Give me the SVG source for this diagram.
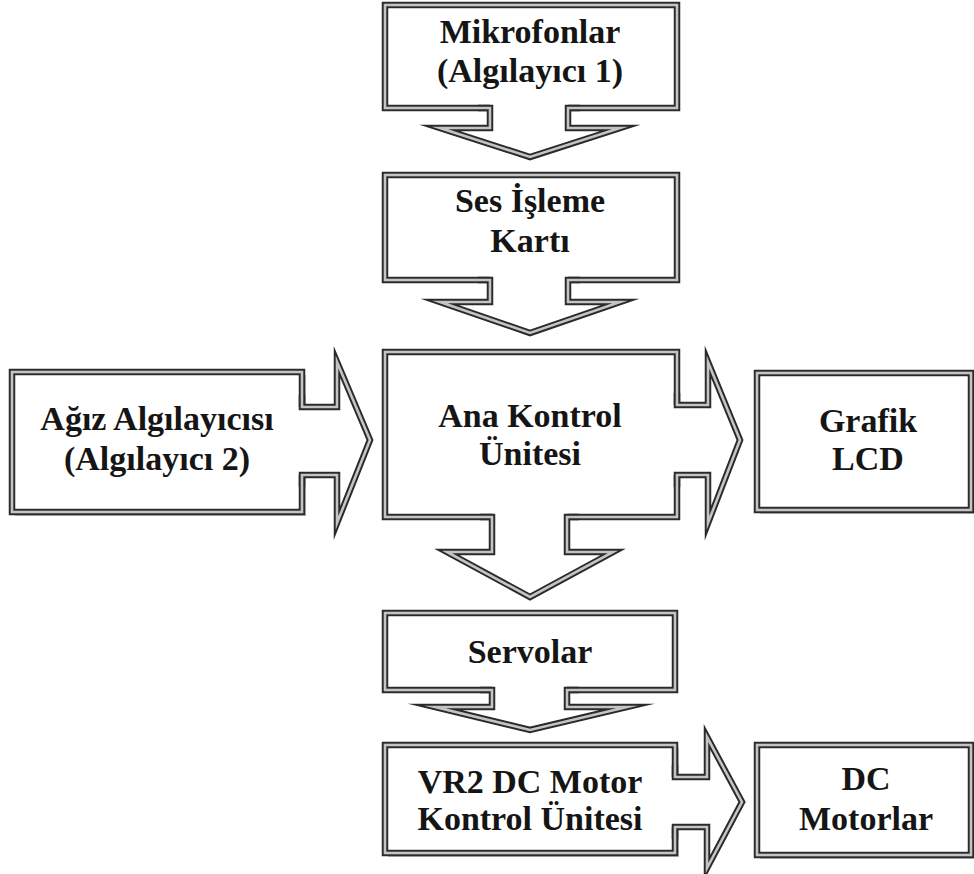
<svg xmlns="http://www.w3.org/2000/svg" width="974" height="874" viewBox="0 0 974 874">
<style>
.box{fill:#fff;stroke:#2a2a2a;stroke-width:6.5;stroke-linejoin:miter}
.mid{fill:none;stroke:#c4c4c4;stroke-width:2.6;stroke-linejoin:miter}
.ol{fill:none;stroke:#2a2a2a;stroke-width:6.5;stroke-linejoin:miter;stroke-miterlimit:10}
.olm{fill:none;stroke:#c4c4c4;stroke-width:2.6;stroke-linejoin:miter;stroke-miterlimit:10}
.af{fill:#fff;stroke:none}
.sh{fill:#7f97a8;opacity:0.55}
text{font-family:"Liberation Serif","Times New Roman",serif;font-weight:bold;font-size:34px;fill:#151515;text-anchor:middle}
</style>
<rect width="974" height="874" fill="#fff"/>
<g id="mikrofonlar">
<rect class="box" x="385" y="5" width="292" height="103"/>
<rect class="mid" x="385" y="5" width="292" height="103"/>
<text x="530" y="43">Mikrofonlar</text>
<text x="530" y="82">(Algılayıcı 1)</text>
</g>
<g id="ses-isleme">
<rect class="box" x="385" y="175" width="292" height="105"/>
<rect class="mid" x="385" y="175" width="292" height="105"/>
<text x="530" y="212">Ses İşleme</text>
<text x="530" y="252">Kartı</text>
</g>
<g id="agiz">
<rect class="sh" x="15" y="375" width="291" height="141"/>
<rect class="box" x="12" y="372" width="290" height="140"/>
<rect class="mid" x="12" y="372" width="290" height="140"/>
<text x="157" y="430">Ağız Algılayıcısı</text>
<text x="157" y="470">(Algılayıcı 2)</text>
</g>
<g id="ana-kontrol">
<rect class="box" x="385" y="352" width="292" height="165"/>
<rect class="mid" x="385" y="352" width="292" height="165"/>
<text x="530" y="427">Ana Kontrol</text>
<text x="530" y="465">Ünitesi</text>
</g>
<g id="grafik-lcd">
<rect class="sh" x="760" y="376" width="214" height="138"/>
<rect class="box" x="757" y="373" width="214" height="137"/>
<rect class="mid" x="757" y="373" width="214" height="137"/>
<text x="868" y="432">Grafik</text>
<text x="868" y="470">LCD</text>
</g>
<g id="servolar">
<rect class="box" x="385" y="613" width="290" height="77"/>
<rect class="mid" x="385" y="613" width="290" height="77"/>
<text x="530" y="663">Servolar</text>
</g>
<g id="vr2">
<rect class="sh" x="388" y="748" width="291" height="109"/>
<rect class="box" x="385" y="745" width="290" height="108"/>
<rect class="mid" x="385" y="745" width="290" height="108"/>
<text x="530" y="793">VR2 DC Motor</text>
<text x="530" y="830">Kontrol Ünitesi</text>
</g>
<g id="dc-motorlar">
<rect class="sh" x="760" y="748" width="214" height="111"/>
<rect class="box" x="757" y="745" width="214" height="110"/>
<rect class="mid" x="757" y="745" width="214" height="110"/>
<text x="866" y="790">DC</text>
<text x="866" y="830">Motorlar</text>
</g>
<g id="connectors">
<!-- Mikrofonlar -> Ses Isleme -->
<path class="af" d="M490,103 V128 H440 L530,157 L620,128 H568 V103 Z"/>
<path class="ol" d="M478,108 H490 V128 H440 L530,157 L620,128 H568 V108 H580"/>
<path class="olm" d="M478,108 H490 V128 H440 L530,157 L620,128 H568 V108 H580"/>
<!-- Ses Isleme -> Ana Kontrol -->
<path class="af" d="M490,275 V302 H440 L530,333 L620,302 H568 V275 Z"/>
<path class="ol" d="M478,280 H490 V302 H440 L530,333 L620,302 H568 V280 H580"/>
<path class="olm" d="M478,280 H490 V302 H440 L530,333 L620,302 H568 V280 H580"/>
<!-- Agiz -> Ana Kontrol -->
<path class="af" d="M297,407 H337 V362 L370,440 L337,523 V475 H297 Z"/>
<path class="ol" d="M302,395 V407 H337 V362 L370,440 L337,523 V475 H302 V487"/>
<path class="olm" d="M302,395 V407 H337 V362 L370,440 L337,523 V475 H302 V487"/>
<!-- Ana Kontrol -> Grafik LCD -->
<path class="af" d="M672,405 H708 V362 L740,440 L708,523 V475 H672 Z"/>
<path class="ol" d="M677,393 V405 H708 V362 L740,440 L708,523 V475 H677 V487"/>
<path class="olm" d="M677,393 V405 H708 V362 L740,440 L708,523 V475 H677 V487"/>
<!-- Ana Kontrol -> Servolar -->
<path class="af" d="M492,512 V552 H447 L530,597 L613,552 H567 V512 Z"/>
<path class="ol" d="M480,517 H492 V552 H447 L530,597 L613,552 H567 V517 H579"/>
<path class="olm" d="M480,517 H492 V552 H447 L530,597 L613,552 H567 V517 H579"/>
<!-- Servolar -> VR2 -->
<path class="af" d="M492,685 V707 H435 L530,730 L627,707 H567 V685 Z"/>
<path class="ol" d="M480,690 H492 V707 H435 L530,730 L627,707 H567 V690 H579"/>
<path class="olm" d="M480,690 H492 V707 H435 L530,730 L627,707 H567 V690 H579"/>
<!-- VR2 -> DC Motorlar -->
<path class="af" d="M670,777 H707 V737 L742,802 L707,868 V827 H670 Z"/>
<path class="ol" d="M675,765 V777 H707 V737 L742,802 L707,868 V827 H675 V839"/>
<path class="olm" d="M675,765 V777 H707 V737 L742,802 L707,868 V827 H675 V839"/>
</g>
</svg>
